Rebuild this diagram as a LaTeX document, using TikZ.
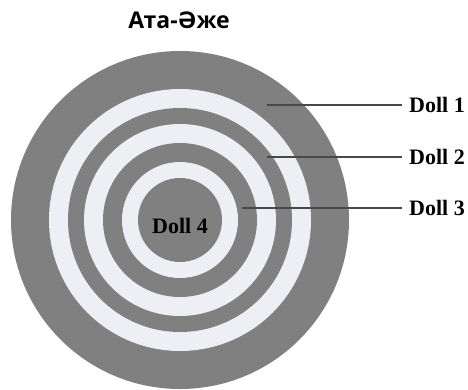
\documentclass[tikz,border=0pt]{standalone}
\usepackage{fontspec}
\setmainfont{Liberation Serif}
\newfontfamily\titlefont{Open Sans}
\usetikzlibrary{positioning}
\definecolor{clrDisk}{RGB}{128,128,128}
\definecolor{clrRing}{RGB}{238,238,245}
\definecolor{clrLine}{RGB}{72,72,72}
\tikzset{
  dolllabel/.style={font=\fontsize{22}{26}\selectfont\bfseries,inner xsep=7pt,
    inner ysep=2pt,anchor=west},
  pointer/.style={draw=clrLine,line width=2pt}
}
\begin{document}
\begin{tikzpicture}[x=1pt,y=-1pt]
\useasboundingbox (0,0) rectangle (468,390);

% Title
\node[font=\titlefont\fontsize{23}{27}\selectfont\bfseries] (title) at (179,20) {Ата-Әже};

% Nested dolls, outermost first
\fill[clrDisk] (180,220) circle [radius=169pt];
\fill[clrRing] (180,220) circle [radius=131pt];
\fill[clrDisk] (180,220) circle [radius=112pt];
\fill[clrRing] (180,220) circle [radius=96pt];
\fill[clrDisk] (180,220) circle [radius=77pt];
\fill[clrRing] (180,220) circle [radius=58pt];
\fill[clrDisk] (180,220) circle [radius=42pt];

\node[font=\fontsize{22}{26}\selectfont\bfseries] (doll4) at (180,226) {Doll 4};

% Labels on the right
\coordinate (p1) at (267,105);
\coordinate (p2) at (267,157);
\coordinate (p3) at (242,208);
\node[dolllabel] (doll1) at (402,105) {Doll 1};
\node[dolllabel] (doll2) at (402,157) {Doll 2};
\node[dolllabel] (doll3) at (402,208) {Doll 3};
\draw[pointer] (p1) -- (doll1.west);
\draw[pointer] (p2) -- (doll2.west);
\draw[pointer] (p3) -- (doll3.west);
\end{tikzpicture}
\end{document}
